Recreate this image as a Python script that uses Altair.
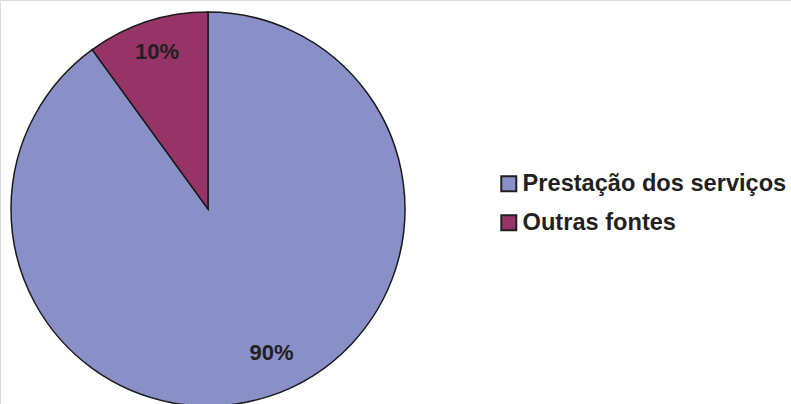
import altair as alt
import pandas as pd

categories = ["Prestação dos serviços", "Outras fontes"]
values = [90, 10]
labels = ["90%", "10%"]
order = [0, 1]
colors = ["#8890C7", "#963468"]

df = pd.DataFrame({"cat": categories, "val": values, "label": labels, "ord": order})

FONT = "Liberation Sans"
TXT = "#231F20"

base = alt.Chart(df).encode(
    theta=alt.Theta("val:Q", stack=True),
    order=alt.Order("ord:Q"),
)

pie = base.mark_arc(radius=197, stroke="#1a1a1a", strokeWidth=1.5).encode(
    x=alt.value(208),
    y=alt.value(209),
    color=alt.Color(
        "cat:N",
        scale=alt.Scale(domain=categories, range=colors),
        legend=alt.Legend(
            title=None,
            orient="none",
            legendX=497,
            legendY=172,
            symbolType="square",
            symbolSize=225,
            symbolStrokeColor="#231F20",
            symbolStrokeWidth=2,
            labelFont=FONT,
            labelFontWeight="bold",
            labelFontSize=23.6,
            labelColor=TXT,
            labelOffset=2,
            rowPadding=14,
            labelLimit=400,
        ),
    ),
)

lab90 = base.mark_text(radius=157, font=FONT, fontWeight="bold", fontSize=22, color=TXT, dx=15, dy=-5).encode(
    x=alt.value(208), y=alt.value(209),
    text=alt.condition(alt.datum.ord == 0, "label:N", alt.value("")),
)
lab10 = base.mark_text(radius=165, font=FONT, fontWeight="bold", fontSize=22, color=TXT).encode(
    x=alt.value(208), y=alt.value(209),
    text=alt.condition(alt.datum.ord == 1, "label:N", alt.value("")),
)

chart = alt.layer(pie, lab90, lab10).properties(
    width=791, height=404, padding=0, autosize=alt.AutoSizeParams(type="none")
).configure_view(stroke=None).configure(background="white")

chart.save("out.html", embed_options={"renderer": "svg", "actions": False})
